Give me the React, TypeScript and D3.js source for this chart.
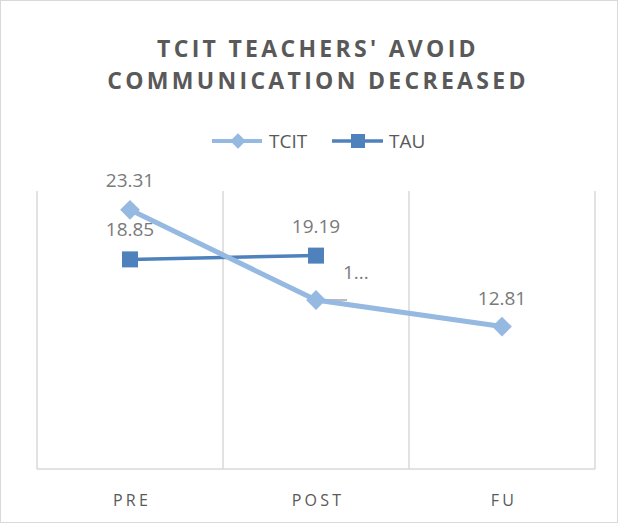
import { useRef, useEffect } from 'react';
import * as d3 from 'd3';

const CATEGORIES = ['PRE', 'POST', 'FU'];
const TCIT_VALUES = [23.31, 15.2, 12.81];
const TAU_VALUES = [18.85, 19.19];
const TCIT_LABELS = ['23.31', '1...', '12.81'];
const TAU_LABELS = ['18.85', '19.19'];
const TITLE_LINES = ["TCIT TEACHERS' AVOID", 'COMMUNICATION DECREASED'];

const W = 619;
const H = 525;
const PLOT = { left: 37, right: 595, top: 191, bottom: 469 };
const TCIT_COLOR = '#95b9e1';
const TAU_COLOR = '#4f81bd';
const TEXT = '#595959';
const LABEL = '#7a7a7a';
const GRID = '#d9d9d9';
const FONT = "'Open Sans', 'Liberation Sans', sans-serif";

export default function App() {
  const svgRef = useRef<SVGSVGElement>(null);

  useEffect(() => {
    const svg = d3.select(svgRef.current);
    svg.selectAll('*').remove();

    const x = d3.scaleBand().domain(CATEGORIES).range([PLOT.left, PLOT.right]);
    const y = d3.scaleLinear().domain([0, 25]).range([PLOT.bottom, PLOT.top]);
    const cx = (c: string) => (x(c) as number) + x.bandwidth() / 2;
    const diamond = (size: number) => d3.symbol(d3.symbolSquare, size * size)();

    svg.append('rect')
      .attr('x', 0.5).attr('y', 0.5).attr('width', W - 2).attr('height', H - 3)
      .attr('fill', '#fff').attr('stroke', GRID);

    // Title
    TITLE_LINES.forEach((t, i) => {
      svg.append('text')
        .attr('x', 318).attr('y', 57 + i * 32)
        .attr('text-anchor', 'middle')
        .attr('font-family', FONT).attr('font-weight', 700)
        .attr('font-size', '23px').attr('letter-spacing', '3.3px')
        .attr('fill', TEXT).text(t);
    });

    // Legend
    const leg = svg.append('g');
    leg.append('line').attr('x1', 212).attr('x2', 262).attr('y1', 141).attr('y2', 141)
      .attr('stroke', TCIT_COLOR).attr('stroke-width', 4);
    leg.append('path').attr('d', diamond(11))
      .attr('transform', 'translate(238,141) rotate(45)').attr('fill', TCIT_COLOR);
    leg.append('text').attr('x', 269).attr('y', 148).attr('font-family', FONT)
      .attr('font-size', '19px').attr('fill', TEXT).text('TCIT');
    leg.append('line').attr('x1', 332).attr('x2', 383).attr('y1', 141).attr('y2', 141)
      .attr('stroke', TAU_COLOR).attr('stroke-width', 3.5);
    leg.append('rect').attr('x', 351).attr('y', 134).attr('width', 14).attr('height', 14)
      .attr('fill', TAU_COLOR);
    leg.append('text').attr('x', 389).attr('y', 148).attr('font-family', FONT)
      .attr('font-size', '19px').attr('fill', TEXT).text('TAU');

    // Grid
    const g = svg.append('g');
    const edges = [...CATEGORIES.map((c) => x(c) as number), PLOT.right];
    g.selectAll('line.v').data(edges).join('line')
      .attr('x1', (d) => d).attr('x2', (d) => d)
      .attr('y1', PLOT.top).attr('y2', PLOT.bottom)
      .attr('stroke', GRID).attr('stroke-width', 1.5);
    g.append('line').attr('x1', PLOT.left).attr('x2', PLOT.right)
      .attr('y1', PLOT.bottom).attr('y2', PLOT.bottom)
      .attr('stroke', GRID).attr('stroke-width', 1.5);

    // Category labels
    g.selectAll('text.cat').data(CATEGORIES).join('text')
      .attr('x', (d) => cx(d) + 2).attr('y', 506)
      .attr('text-anchor', 'middle').attr('font-family', FONT)
      .attr('font-size', '16px').attr('letter-spacing', '3.2px')
      .attr('fill', TEXT).text((d) => d);

    // Leader line for truncated label
    g.append('line').attr('x1', cx('POST')).attr('x2', cx('POST') + 31)
      .attr('y1', y(TCIT_VALUES[1])).attr('y2', y(TCIT_VALUES[1]))
      .attr('stroke', '#a6a6a6').attr('stroke-width', 1.5);

    const line = d3.line<number>().x((_, i) => cx(CATEGORIES[i])).y((d) => y(d));

    // TAU
    g.append('path').datum(TAU_VALUES).attr('d', line)
      .attr('fill', 'none').attr('stroke', TAU_COLOR).attr('stroke-width', 3.5);
    g.selectAll('rect.tau').data(TAU_VALUES).join('rect')
      .attr('x', (_, i) => cx(CATEGORIES[i]) - 8).attr('y', (d) => y(d) - 8)
      .attr('width', 16).attr('height', 16).attr('fill', TAU_COLOR);

    // TCIT
    g.append('path').datum(TCIT_VALUES).attr('d', line)
      .attr('fill', 'none').attr('stroke', TCIT_COLOR).attr('stroke-width', 5);
    g.selectAll('path.tcit').data(TCIT_VALUES).join('path')
      .attr('d', diamond(14))
      .attr('transform', (d, i) => `translate(${cx(CATEGORIES[i])},${y(d)}) rotate(45)`)
      .attr('fill', TCIT_COLOR);

    // Data labels
    const lbl = (tx: number, ty: number, t: string, anchor = 'middle') =>
      g.append('text').attr('x', tx).attr('y', ty).attr('text-anchor', anchor)
        .attr('font-family', FONT).attr('font-size', '19px').attr('fill', LABEL).text(t);
    lbl(cx('PRE'), y(TCIT_VALUES[0]) - 23, TCIT_LABELS[0]);
    lbl(cx('PRE'), y(TAU_VALUES[0]) - 23, TAU_LABELS[0]);
    lbl(cx('POST'), y(TAU_VALUES[1]) - 23, TAU_LABELS[1]);
    lbl(cx('POST') + 27, y(TCIT_VALUES[1]) - 21, TCIT_LABELS[1], 'start');
    lbl(cx('FU'), y(TCIT_VALUES[2]) - 22, TCIT_LABELS[2]);
  }, []);

  return (
    <svg
      ref={svgRef}
      width={W}
      height={H}
      style={{ position: 'absolute', left: 0, top: 0, display: 'block' }}
    />
  );
}
